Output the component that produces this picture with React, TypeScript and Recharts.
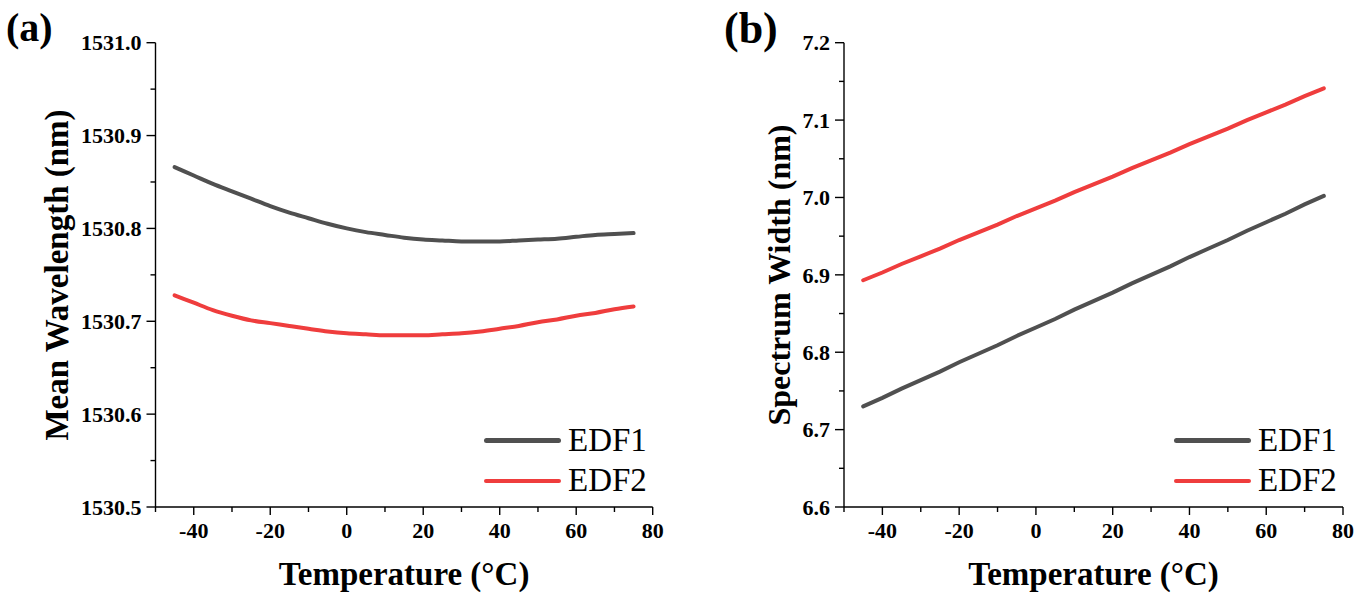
import React from 'react';
import { LineChart, Line, XAxis, YAxis, Legend } from 'recharts';

const FONT = '"Liberation Serif", "Times New Roman", serif';

// temperature sweep (°C)
const temperature = [
  -45, -40, -35, -30, -25, -20, -15, -10, -5, 0, 5, 10, 15, 20, 25, 30, 35, 40, 45, 50, 55, 60, 65, 70, 75,
];

// (a) mean wavelength, nm
const wavelengthEdf1 = [
  1530.866, 1530.857, 1530.848, 1530.84, 1530.832, 1530.824, 1530.817, 1530.811, 1530.805, 1530.8,
  1530.796, 1530.793, 1530.79, 1530.788, 1530.787, 1530.786, 1530.786, 1530.786, 1530.787, 1530.788,
  1530.789, 1530.791, 1530.793, 1530.794, 1530.795,
];
const wavelengthEdf2 = [
  1530.728, 1530.72, 1530.712, 1530.706, 1530.701, 1530.698, 1530.695, 1530.692, 1530.689, 1530.687,
  1530.686, 1530.685, 1530.685, 1530.685, 1530.686, 1530.687, 1530.689, 1530.692, 1530.695, 1530.699,
  1530.702, 1530.706, 1530.709, 1530.713, 1530.716,
];

// (b) spectrum width, nm
const widthEdf1 = [
  6.73, 6.741, 6.753, 6.764, 6.775, 6.787, 6.798, 6.809, 6.821, 6.832, 6.843, 6.855, 6.866, 6.877, 6.889,
  6.9, 6.911, 6.923, 6.934, 6.945, 6.957, 6.968, 6.979, 6.991, 7.002,
];
const widthEdf2 = [
  6.893, 6.903, 6.914, 6.924, 6.934, 6.945, 6.955, 6.965, 6.976, 6.986, 6.996, 7.007, 7.017, 7.027, 7.038,
  7.048, 7.058, 7.069, 7.079, 7.089, 7.1, 7.11, 7.12, 7.131, 7.141,
];

const tempTicks = [-50, -40, -30, -20, -10, 0, 10, 20, 30, 40, 50, 60, 70, 80];
const wavelengthTicks = [
  1530.5, 1530.55, 1530.6, 1530.65, 1530.7, 1530.75, 1530.8, 1530.85, 1530.9, 1530.95, 1531.0,
];
const widthTicks = [6.6, 6.65, 6.7, 6.75, 6.8, 6.85, 6.9, 6.95, 7.0, 7.05, 7.1, 7.15, 7.2];

const buildRows = (a: number[], b: number[]) =>
  temperature.map((t, i) => ({ t, edf1: a[i], edf2: b[i] }));

function XTick(props: any) {
  const { x, y, payload } = props;
  const v = payload.value;
  const major = v % 20 === 0;
  return (
    <g>
      <line x1={x} x2={x} y1={y} y2={y + (major ? 8 : 5)} stroke="#000" strokeWidth={1.4} />
      {major && (
        <text x={x} y={y + 31} textAnchor="middle" fontFamily={FONT} fontWeight="bold" fontSize={22} fill="#000">
          {v}
        </text>
      )}
    </g>
  );
}

function YTick(props: any) {
  const { x, y, payload } = props;
  const v = payload.value;
  const major = Math.round(v * 100) % 10 === 0;
  return (
    <g>
      <line x1={x} x2={x - (major ? 9 : 5)} y1={y} y2={y} stroke="#000" strokeWidth={1.4} />
      {major && (
        <text x={x - 14} y={y} dy="0.35em" textAnchor="end" fontFamily={FONT} fontWeight="bold" fontSize={22} fill="#000">
          {v.toFixed(1)}
        </text>
      )}
    </g>
  );
}

function LegendBox(props: any) {
  const items = props.payload || [];
  return (
    <div style={{ fontFamily: FONT, fontSize: 33, color: '#000' }}>
      {items.map((item: any) => (
        <div key={item.value} style={{ display: 'flex', alignItems: 'center', height: 40.5 }}>
          <span
            style={{ display: 'inline-block', width: 77, height: 4.5, borderRadius: 3, background: item.color }}
          />
          <span style={{ marginLeft: 7, lineHeight: '33px' }}>{item.value}</span>
        </div>
      ))}
    </div>
  );
}

interface PanelProps {
  rows: { t: number; edf1: number; edf2: number }[];
  curve: 'monotone' | 'linear';
  yTicks: number[];
  yDomain: [number, number];
  yTitle: string;
  yTitleX: number;
  yTitleSize: number;
  marginLeft: number;
  marginRight: number;
  legendLeft: number;
}

function Panel({
  rows,
  curve,
  yTicks,
  yDomain,
  yTitle,
  yTitleX,
  yTitleSize,
  marginLeft,
  marginRight,
  legendLeft,
}: PanelProps) {
  const plotLeft = marginLeft + 60;
  const plotCenterX = plotLeft + (680 - plotLeft - marginRight) / 2;
  return (
    <LineChart
      width={680}
      height={602}
      data={rows}
      margin={{ top: 42.7, right: marginRight, bottom: 55, left: marginLeft }}
    >
      <XAxis
        dataKey="t"
        type="number"
        domain={[-50, 80]}
        ticks={tempTicks}
        interval={0}
        allowDataOverflow
        height={40}
        tickSize={0}
        tickMargin={0}
        tickLine={false}
        axisLine={{ stroke: '#000', strokeWidth: 1.4 }}
        tick={<XTick />}
        label={() => (
          <text x={plotCenterX} y={585} textAnchor="middle" fontFamily={FONT} fontWeight="bold" fontSize={33} fill="#000">
            Temperature (°C)
          </text>
        )}
      />
      <XAxis
        xAxisId="top"
        orientation="top"
        type="number"
        domain={[-50, 80]}
        height={0}
        tick={false}
        tickLine={false}
        axisLine={{ stroke: '#000', strokeWidth: 1.4 }}
      />
      <YAxis
        type="number"
        domain={yDomain}
        ticks={yTicks}
        interval={0}
        allowDataOverflow
        width={60}
        tickSize={0}
        tickMargin={0}
        tickLine={false}
        axisLine={{ stroke: '#000', strokeWidth: 1.4 }}
        tick={<YTick />}
        label={() => (
          <text
            x={yTitleX}
            y={275}
            transform={`rotate(-90 ${yTitleX} 275)`}
            textAnchor="middle"
            fontFamily={FONT}
            fontWeight="bold"
            fontSize={yTitleSize}
            fill="#000"
          >
            {yTitle}
          </text>
        )}
      />
      <YAxis
        yAxisId="right"
        orientation="right"
        type="number"
        domain={yDomain}
        width={0}
        tick={false}
        tickLine={false}
        axisLine={{ stroke: '#000', strokeWidth: 1.4 }}
      />
      <Legend
        layout="horizontal"
        verticalAlign="middle"
        align="center"
        wrapperStyle={{ left: legendLeft, top: 420, width: 'auto' }}
        content={<LegendBox />}
      />
      <Line
        type={curve}
        dataKey="edf1"
        name="EDF1"
        stroke="#505050"
        strokeWidth={4}
        strokeLinecap="round"
        dot={false}
        isAnimationActive={false}
      />
      <Line
        type={curve}
        dataKey="edf2"
        name="EDF2"
        stroke="#ef3d3d"
        strokeWidth={4}
        strokeLinecap="round"
        dot={false}
        isAnimationActive={false}
      />
    </LineChart>
  );
}

export default function App() {
  return (
    <div style={{ position: 'absolute', left: 0, top: 0, width: 1360, height: 602, background: '#fff' }}>
      <div style={{ position: 'absolute', left: 0, top: 0 }}>
        <Panel
          rows={buildRows(wavelengthEdf1, wavelengthEdf2)}
          curve="monotone"
          yTicks={wavelengthTicks}
          yDomain={[1530.5, 1531.0]}
          yTitle="Mean Wavelength (nm)"
          yTitleX={68}
          yTitleSize={33}
          marginLeft={95.5}
          marginRight={27.3}
          legendLeft={484}
        />
      </div>
      <div style={{ position: 'absolute', left: 680, top: 0 }}>
        <Panel
          rows={buildRows(widthEdf1, widthEdf2)}
          curve="linear"
          yTicks={widthTicks}
          yDomain={[6.6, 7.2]}
          yTitle="Spectrum Width (nm)"
          yTitleX={110}
          yTitleSize={32}
          marginLeft={104}
          marginRight={17}
          legendLeft={494}
        />
      </div>
      <div
        style={{
          position: 'absolute',
          left: 6,
          top: 8,
          fontFamily: FONT,
          fontWeight: 'bold',
          fontSize: 40,
          lineHeight: '40px',
        }}
      >
        (a)
      </div>
      <div
        style={{
          position: 'absolute',
          left: 724,
          top: 7,
          fontFamily: FONT,
          fontWeight: 'bold',
          fontSize: 44,
          lineHeight: '44px',
        }}
      >
        (b)
      </div>
    </div>
  );
}
